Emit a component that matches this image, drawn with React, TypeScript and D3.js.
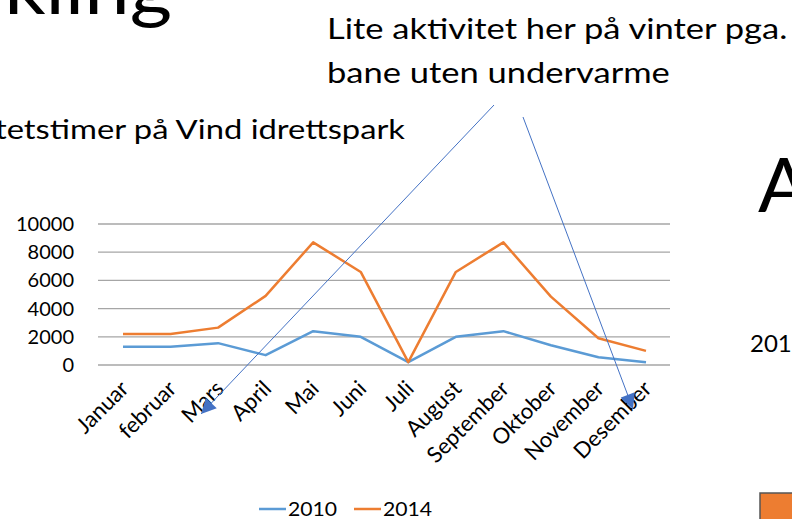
import React from "react";
import * as d3 from "d3";

const months = ["Januar", "februar", "Mars", "April", "Mai", "Juni", "Juli", "August", "September", "Oktober", "November", "Desember"];
const values2010 = [1300, 1300, 1550, 700, 2400, 2000, 200, 2000, 2400, 1400, 550, 200];
const values2014 = [2200, 2200, 2650, 4900, 8700, 6600, 200, 6600, 8700, 4850, 1900, 1000];
const yTicks = [0, 2000, 4000, 6000, 8000, 10000];
const seriesNames = ["2010", "2014"];
const seriesColors = ["#5B9BD5", "#ED7D31"];

const FONT = "Lato, 'Liberation Sans', sans-serif";

export default function App() {
  const W = 792, H = 519;
  const x = d3.scalePoint<string>().domain(months).range([123, 646]);
  const y = d3.scaleLinear().domain([0, 10000]).range([365, 224]);
  const line = d3.line<number>().x((_, i) => x(months[i]) as number).y((d) => y(d));
  const series = [values2010, values2014];

  const arrows = [
    { x1: 494, y1: 105, x2: 201, y2: 414 },
    { x1: 523, y1: 117, x2: 633, y2: 409 },
  ];
  const SX = 1.19;

  return (
    <svg width={W} height={H} style={{ position: "absolute", left: 0, top: 0, background: "#fff" }} fontFamily={FONT}>
      <defs>
        <marker id="arr" viewBox="0 0 10 10" refX="10" refY="5" markerWidth="17" markerHeight="15" markerUnits="userSpaceOnUse" orient="auto">
          <path d="M0,0 L10,5 L0,10 z" fill="#4472C4" />
        </marker>
      </defs>
      {/* slide title fragments */}
      <g transform={`translate(172,14) scale(1.1,1)`}>
        <text x={0} y={0} fontSize={74} textAnchor="end" fill="#000">Utvikling</text>
      </g>
      <g transform={`translate(327,39) scale(${SX},1)`}>
        <text x={0} y={0} fontSize={29} fill="#000">Lite aktivitet her på vinter pga.</text>
      </g>
      <g transform={`translate(327,83) scale(${SX},1)`}>
        <text x={0} y={0} fontSize={29} fill="#000">bane uten undervarme</text>
      </g>
      <g transform={`translate(405,139) scale(1.26,1)`}>
        <text x={0} y={0} fontSize={26} textAnchor="end" fill="#000">Aktivitetstimer på Vind idrettspark</text>
      </g>
      <text x={758} y={212} fontSize={76} fill="#000">A</text>
      <text x={750} y={352} fontSize={24} fill="#000">201</text>
      <rect x={760} y={493} width={40} height={40} fill="#ED7D31" stroke="#555" strokeWidth={1.5} />

      {/* gridlines */}
      {yTicks.map((t) => (
        <g key={t}>
          <line x1={98} x2={670} y1={y(t)} y2={y(t)} stroke="#a6a6a6" strokeWidth={1.3} />
          <text x={74} y={y(t)} dy="0.35em" textAnchor="end" fontSize={20} fill="#000">{t}</text>
        </g>
      ))}

      {/* x labels */}
      {months.map((m) => (
        <text key={m} transform={`translate(${(x(m) as number) + 7},390) rotate(-45)`} textAnchor="end" fontSize={22} fill="#000">{m}</text>
      ))}

      {/* series */}
      {series.map((s, i) => (
        <path key={i} d={line(s) || ""} fill="none" stroke={seriesColors[i]} strokeWidth={2.5} strokeLinejoin="round" />
      ))}

      {/* annotation arrows */}
      {arrows.map((a, i) => (
        <line key={i} x1={a.x1} y1={a.y1} x2={a.x2} y2={a.y2} stroke="#4472C4" strokeWidth={1} markerEnd="url(#arr)" />
      ))}

      {/* legend */}
      {seriesNames.map((n, i) => (
        <g key={n} transform={`translate(${259 + i * 95},0)`}>
          <line x1={0} x2={27} y1={509} y2={509} stroke={seriesColors[i]} strokeWidth={2.5} />
          <g transform="translate(29,516) scale(1.06,1)">
            <text x={0} y={0} fontSize={20} fill="#000">{n}</text>
          </g>
        </g>
      ))}
    </svg>
  );
}
